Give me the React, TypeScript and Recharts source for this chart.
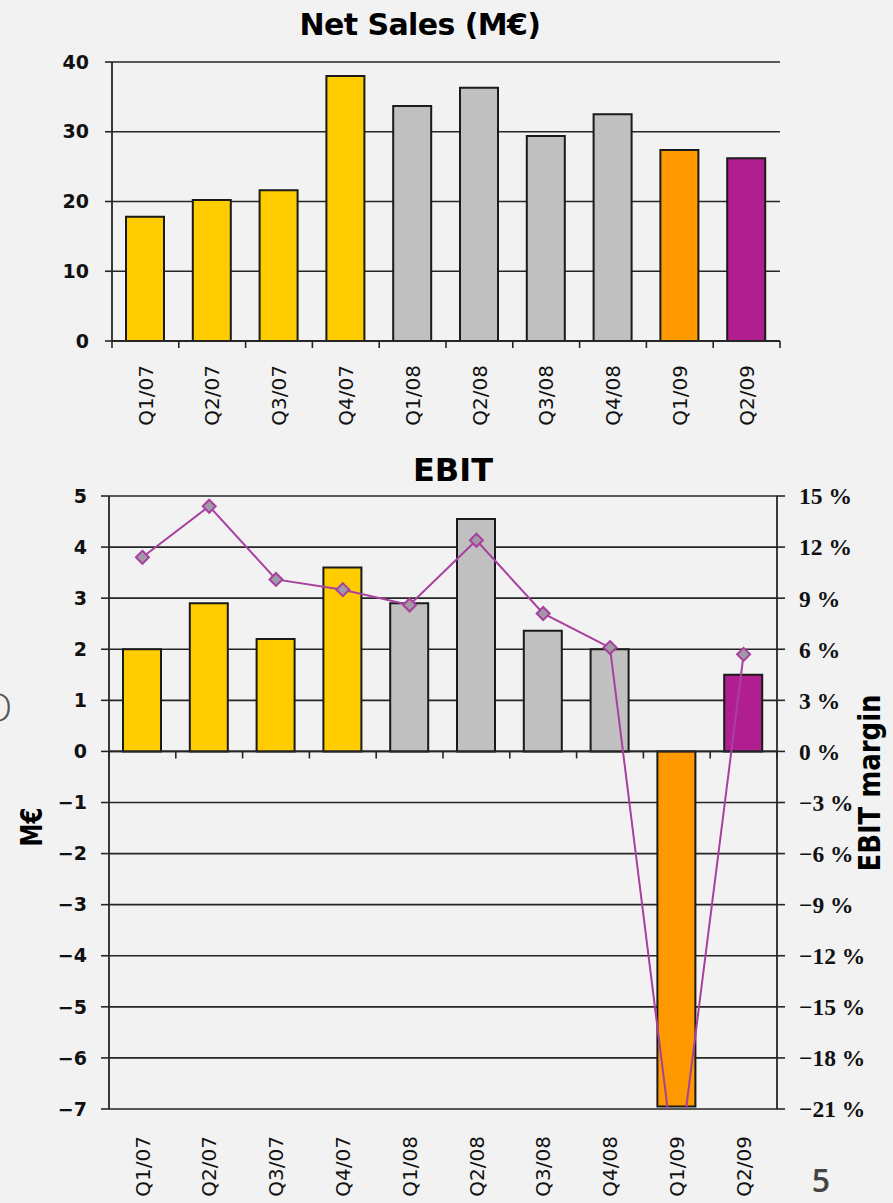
import React from "react";
import { ComposedChart, Bar, Line, Cell, XAxis, YAxis, CartesianGrid, ReferenceLine } from "recharts";

const quarters = ["Q1/07", "Q2/07", "Q3/07", "Q4/07", "Q1/08", "Q2/08", "Q3/08", "Q4/08", "Q1/09", "Q2/09"];
const netSales = [17.8, 20.2, 21.6, 38.0, 33.7, 36.3, 29.4, 32.5, 27.4, 26.2];
const ebit = [2.0, 2.9, 2.2, 3.6, 2.9, 4.55, 2.36, 2.0, -6.95, 1.5];
const ebitMargin = [11.4, 14.4, 10.1, 9.5, 8.6, 12.4, 8.1, 6.1, -25.3, 5.7];
const salesTicks = [0, 10, 20, 30, 40];
const ebitTicks = [-7, -6, -5, -4, -3, -2, -1, 0, 1, 2, 3, 4, 5];
const marginTicks = [-21, -18, -15, -12, -9, -6, -3, 0, 3, 6, 9, 12, 15];

const YELLOW = "#FFCC00";
const GREY = "#C0C0C0";
const ORANGE = "#FF9900";
const PURPLE = "#B01E90";
const barColors = [YELLOW, YELLOW, YELLOW, YELLOW, GREY, GREY, GREY, GREY, ORANGE, PURPLE];

const INK = "#262626";
const LINE = "#A8409F";

const salesData = quarters.map((q, i) => ({ q, sales: netSales[i] }));
const ebitData = quarters.map((q, i) => ({ q, ebit: ebit[i], margin: ebitMargin[i] }));

const fmtNum = (v: number) => (v < 0 ? "\u2212" + Math.abs(v) : String(v));
const fmtPct = (v: number) => (v < 0 ? "\u2212" + Math.abs(v) : String(v)) + " %";

const leftTick = { fontSize: 19, fontWeight: 700, fill: "#111", fontFamily: "DejaVu Sans" };
const rightTick = { fontSize: 23.5, fontWeight: 700, fill: "#111", fontFamily: "Liberation Serif" };

// rotated quarter label, reading bottom to top
const QuarterTick = (gap: number) => (props: any) => {
  const { x, y, payload } = props;
  const ty = y + gap;
  return (
    <text
      x={x}
      y={ty}
      transform={`rotate(-90 ${x} ${ty})`}
      textAnchor="end"
      dy="0.36em"
      fontSize={20}
      fontFamily="DejaVu Sans"
      fill="#111"
    >
      {payload.value}
    </text>
  );
};

// zero line with small ticks at category boundaries
const ZeroAxis = (props: any) => {
  const { x1, y1, x2, y2 } = props;
  const step = (x2 - x1) / quarters.length;
  const marks = Array.from({ length: quarters.length + 1 }, (_, i) => x1 + i * step);
  return (
    <g>
      <line x1={x1} y1={y1} x2={x2} y2={y2} stroke={INK} strokeWidth={1.8} />
      {marks.map((mx, i) => (
        <line key={i} x1={mx} x2={mx} y1={y1} y2={y1 + 7} stroke={INK} strokeWidth={1.6} />
      ))}
    </g>
  );
};

const Diamond = (props: any) => {
  const { cx, cy, index } = props;
  if (cx == null || cy == null) return null;
  const r = 6.5;
  return (
    <polygon
      key={index}
      points={`${cx},${cy - r} ${cx + r},${cy} ${cx},${cy + r} ${cx - r},${cy}`}
      fill="#A09AA6"
      stroke={LINE}
      strokeWidth={2}
    />
  );
};

export default function App() {
  return (
    <div
      style={{
        position: "absolute",
        left: 0,
        top: 0,
        width: 893,
        height: 1203,
        background: "#F2F2F2",
        overflow: "hidden",
        fontFamily: "DejaVu Sans",
      }}
    >
      <div style={{ position: "absolute", left: 0, top: 0 }}>
        <ComposedChart width={893} height={440} data={salesData} margin={{ top: 62, right: 113, bottom: 0, left: 0 }}>
          <CartesianGrid vertical={false} stroke={INK} strokeWidth={1.6} />
          <XAxis
            dataKey="q"
            height={99}
            axisLine={false}
            tickLine={false}
            tickSize={0}
            tickMargin={0}
            interval={0}
            tick={QuarterTick(24)}
          />
          <YAxis
            domain={[0, 40]}
            ticks={salesTicks}
            width={112}
            tickSize={7}
            tickMargin={16}
            tick={leftTick}
            axisLine={{ stroke: INK, strokeWidth: 1.8 }}
            tickLine={{ stroke: INK, strokeWidth: 1.6 }}
          />
          <Bar dataKey="sales" barSize={38} stroke="#1A1A1A" strokeWidth={2} isAnimationActive={false}>
            {salesData.map((d, i) => (
              <Cell key={d.q} fill={barColors[i]} />
            ))}
          </Bar>
          <ReferenceLine y={0} shape={ZeroAxis} />
        </ComposedChart>
      </div>

      <div style={{ position: "absolute", left: 0, top: 440 }}>
        <ComposedChart width={893} height={763} data={ebitData} margin={{ top: 56, right: 0, bottom: 0, left: 0 }}>
          <CartesianGrid vertical={false} yAxisId="left" stroke={INK} strokeWidth={1.6} />
          <XAxis
            dataKey="q"
            height={94}
            axisLine={false}
            tickLine={false}
            tickSize={0}
            tickMargin={0}
            interval={0}
            tick={QuarterTick(27)}
          />
          <YAxis
            yAxisId="left"
            domain={[-7, 5]}
            ticks={ebitTicks}
            width={109}
            tickSize={8}
            tickMargin={14}
            tickFormatter={fmtNum}
            tick={leftTick}
            axisLine={{ stroke: INK, strokeWidth: 1.8 }}
            tickLine={{ stroke: INK, strokeWidth: 1.6 }}
          />
          <YAxis
            yAxisId="right"
            orientation="right"
            domain={[-21, 15]}
            allowDataOverflow
            ticks={marginTicks}
            width={116}
            tickSize={8}
            tickMargin={14}
            tickFormatter={fmtPct}
            tick={{ ...rightTick, textAnchor: "start" }}
            axisLine={{ stroke: INK, strokeWidth: 1.8 }}
            tickLine={{ stroke: INK, strokeWidth: 1.6 }}
          />
          <Bar yAxisId="left" dataKey="ebit" barSize={38} stroke="#1A1A1A" strokeWidth={2} isAnimationActive={false}>
            {ebitData.map((d, i) => (
              <Cell key={d.q} fill={barColors[i]} />
            ))}
          </Bar>
          <ReferenceLine yAxisId="left" y={0} shape={ZeroAxis} />
          <Line
            yAxisId="right"
            dataKey="margin"
            type="linear"
            stroke={LINE}
            strokeWidth={2}
            dot={Diamond}
            activeDot={false}
            isAnimationActive={false}
          />
        </ComposedChart>
      </div>

      <svg width={893} height={1203} style={{ position: "absolute", left: 0, top: 0, pointerEvents: "none" }}>
        <text x={420} y={35} textAnchor="middle" fontSize={30} fontWeight={700} letterSpacing={-0.6} fill="#000">
          Net Sales (M€)
        </text>
        <text x={453} y={481} textAnchor="middle" fontSize={32} fontWeight={700} fill="#000">
          EBIT
        </text>
        <text
          x={31}
          y={827}
          transform="rotate(-90 31 827)"
          textAnchor="middle"
          dy="0.36em"
          fontSize={30}
          fontWeight={700}
          textLength={39}
          lengthAdjust="spacingAndGlyphs"
          fill="#000"
        >
          M€
        </text>
        <text
          x={869}
          y={783}
          transform="rotate(-90 869 783)"
          textAnchor="middle"
          dy="0.36em"
          fontSize={30}
          fontWeight={700}
          textLength={177}
          lengthAdjust="spacingAndGlyphs"
          fill="#000"
        >
          EBIT margin
        </text>
        <text x={821} y={1192} textAnchor="middle" fontSize={32} fontWeight={600} fontFamily="Open Sans" fill="#444">
          5
        </text>
        <text x={-16} y={722} fontSize={40} fontWeight={300} fontFamily="Open Sans" fill="#555">
          D
        </text>
      </svg>
    </div>
  );
}
